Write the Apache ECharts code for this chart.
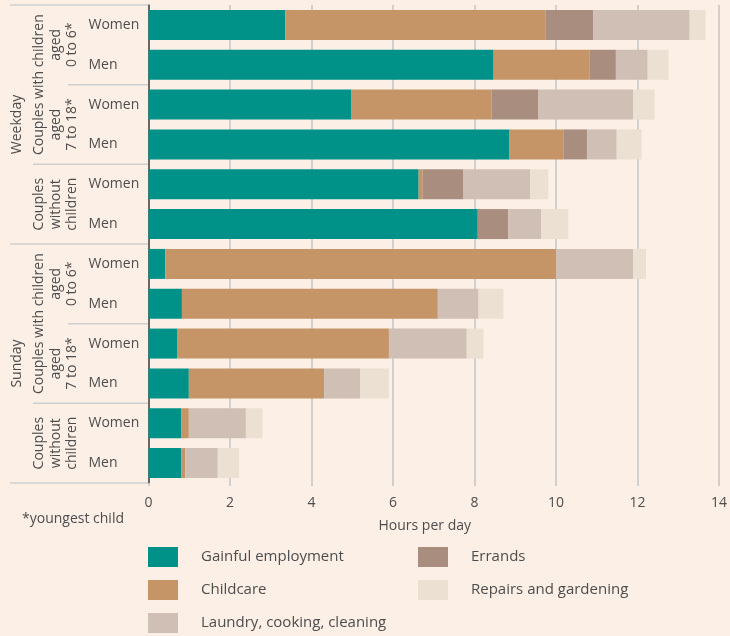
<!DOCTYPE html>
<html>
<head>
<meta charset="utf-8">
<script src="https://cdn.jsdelivr.net/npm/echarts@6/dist/echarts.min.js"></script>
<style>html,body{margin:0;padding:0;background:#fbefe6;}#main{width:730px;height:636px;}</style>
</head>
<body>
<div id="main"></div>
<script>
// ---- data ----
const categories = ['Women','Men','Women','Men','Women','Men','Women','Men','Women','Men','Women','Men'];
const employment = [3.36, 8.47, 4.97, 8.86, 6.63, 8.08, 0.41, 0.82, 0.70, 0.99, 0.80, 0.80];
const childcare  = [6.38, 2.36, 3.45, 1.32, 0.10, 0.00, 9.59, 6.28, 5.20, 3.32, 0.19, 0.10];
const errands    = [1.17, 0.64, 1.15, 0.58, 1.00, 0.75, 0, 0, 0, 0, 0, 0];
const laundry    = [2.37, 0.78, 2.32, 0.73, 1.64, 0.81, 1.89, 1.00, 1.91, 0.88, 1.40, 0.80];
const repairs    = [0.39, 0.51, 0.53, 0.61, 0.44, 0.66, 0.32, 0.61, 0.41, 0.71, 0.41, 0.52];
const seriesNames = ['Gainful employment','Childcare','Errands','Laundry, cooking, cleaning','Repairs and gardening'];
const xTicks = [0,2,4,6,8,10,12,14];
const dayGroups = ['Weekday','Sunday'];

const FONT = 'Open Sans';
const TXT = '#4d4d4d';
const colors = ['#009189','#c59567','#a98e80','#d0bfb5','#ebe0d1'];
const seriesData = [employment, childcare, errands, laundry, repairs];

const chart = echarts.init(document.getElementById('main'));
chart.setOption({
  backgroundColor: '#fbefe6',
  animation: false,
  textStyle: {fontFamily: FONT},
  grid: {left: 148.5, right: 8.5, top: 5, bottom: 153},
  xAxis: {
    type: 'value', min: xTicks[0], max: xTicks[xTicks.length - 1], interval: 2,
    axisLine: {show: false},
    axisTick: {show: true, length: 3, lineStyle: {color: '#c4c4c4', width: 1.5}},
    splitLine: {show: true, lineStyle: {color: '#c4c4c4', width: 1.5}},
    axisLabel: {color: TXT, fontSize: 14, fontFamily: FONT, margin: 13},
    name: 'Hours per day', nameLocation: 'middle', nameGap: 36,
    nameTextStyle: {color: TXT, fontSize: 14, fontFamily: FONT, padding: [0, 18, 0, 0]}
  },
  yAxis: {
    type: 'category', inverse: true, data: categories,
    axisLine: {show: true, lineStyle: {color: '#444', width: 1.5}},
    axisTick: {show: false},
    axisLabel: {align: 'left', margin: 60, color: TXT, fontSize: 14, fontFamily: FONT}
  },
  legend: [
    {
      left: 148, top: 547, orient: 'vertical', padding: 0,
      itemWidth: 30, itemHeight: 20, itemGap: 13, icon: 'rect',
      data: [seriesNames[0], seriesNames[1], seriesNames[3]],
      textStyle: {color: TXT, fontSize: 15, fontFamily: FONT, padding: [0,0,0,18]}
    },
    {
      left: 418, top: 547, orient: 'vertical', padding: 0,
      itemWidth: 30, itemHeight: 20, itemGap: 13, icon: 'rect',
      data: [seriesNames[2], seriesNames[4]],
      textStyle: {color: TXT, fontSize: 15, fontFamily: FONT, padding: [0,0,0,18]}
    }
  ],
  series: seriesNames.map((n, i) => ({
    name: n, type: 'bar', stack: 'all', barWidth: 30,
    itemStyle: {color: colors[i]},
    data: seriesData[i]
  }))
});

// ---- hierarchical row labels ----
const yc = i => chart.convertToPixel({yAxisIndex: 0}, i);
const band = yc(1) - yc(0);
const edge = i => yc(i) - band / 2; // top edge of row i
const axisX = 148;
const g = [];
function hline(y, x0) {
  g.push({type: 'line', silent: true, shape: {x1: x0, y1: y, x2: axisX, y2: y},
          style: {stroke: '#cfcfcf', lineWidth: 1.5}});
}
function vtext(txt, x, y) {
  g.push({type: 'text', silent: true, x: x, y: y, rotation: Math.PI / 2,
          style: {text: txt, align: 'center', verticalAlign: 'middle', fill: TXT,
                  font: '14px "' + FONT + '"'}});
}
// separators
[0, 6, 12].forEach(i => hline(edge(i), 10));
[4, 10].forEach(i => hline(edge(i), 33));
[2, 8].forEach(i => hline(edge(i), 68));
// day labels
vtext(dayGroups[0], 17, (edge(0) + edge(6)) / 2);
vtext(dayGroups[1], 17, (edge(6) + edge(12)) / 2);
[0, 6].forEach(s => {
  vtext('Couples with children', 39, edge(s + 2));
  vtext('aged', 56, (edge(s) + edge(s + 2)) / 2);
  vtext('0 to 6*', 72, (edge(s) + edge(s + 2)) / 2);
  vtext('aged', 56, (edge(s + 2) + edge(s + 4)) / 2);
  vtext('7 to 18*', 72, (edge(s + 2) + edge(s + 4)) / 2);
  const m = (edge(s + 4) + edge(s + 6)) / 2;
  vtext('Couples', 39, m);
  vtext('without', 56, m);
  vtext('children', 72, m);
});
g.push({type: 'text', silent: true, x: 22, y: 519,
        style: {text: '*youngest child', align: 'left', verticalAlign: 'middle', fill: TXT,
                font: '14px "' + FONT + '"'}});
chart.setOption({graphic: g});
</script>
</body>
</html>
